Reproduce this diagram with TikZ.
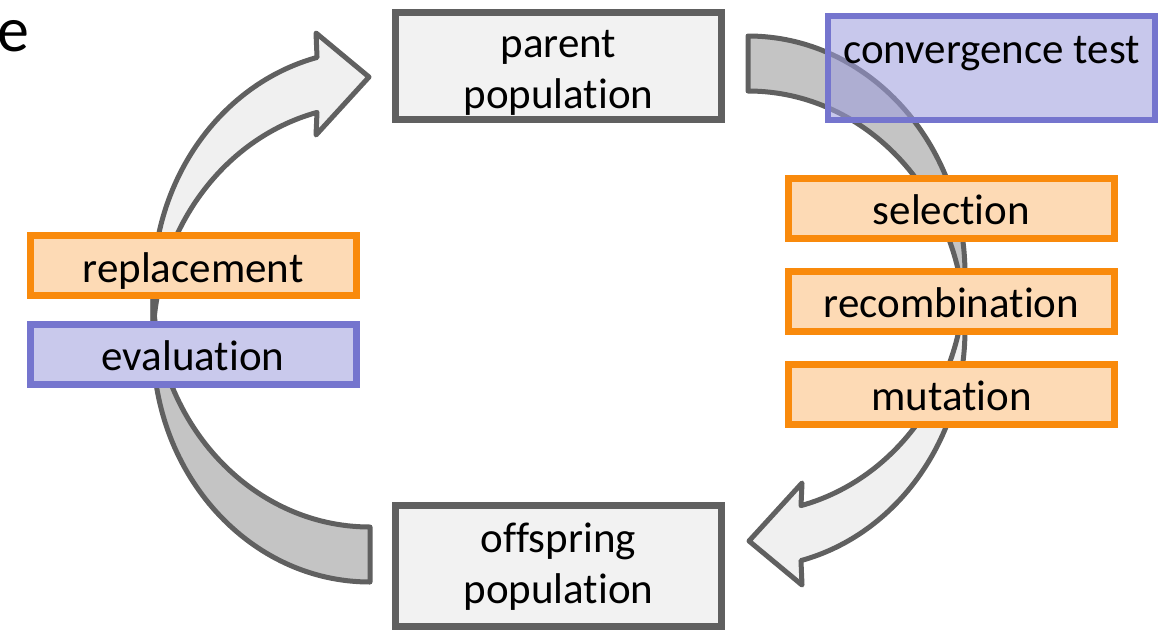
\documentclass[tikz,border=0pt]{standalone}
\usepackage{fontspec}
\setmainfont{Carlito}[Ligatures=NoCommon]
\definecolor{arrgray}{HTML}{606060}
\definecolor{arrdark}{HTML}{C4C4C4}
\definecolor{arrlight}{HTML}{F0F0F0}
\definecolor{boxgray}{HTML}{606060}
\definecolor{boxfill}{HTML}{F2F2F2}
\definecolor{orangeline}{HTML}{F98A0C}
\definecolor{orangefill}{HTML}{FDDAB5}
\definecolor{purpleline}{HTML}{7575CE}
\definecolor{purplefill}{HTML}{C9C9EC}
\definecolor{purpletrans}{HTML}{9D9DDD}
\newcommand\curvedarrowshape{%
  \filldraw[arrowline, fill=arrdark] (370,527)
    arc[start angle=90, end angle=180, x radius=217, y radius=238.4]
    -- (153,343.6)
    arc[start angle=180, end angle=90, x radius=217, y radius=238.4] -- cycle;
  \filldraw[arrowline, fill=arrlight] (153,288.6)
    arc[start angle=180, end angle=255.87, x radius=217, y radius=238.4]
    -- (316,33) -- (369,77) -- (316,135) -- (317,112.4)
    arc[start angle=255.87, end angle=180, x radius=217, y radius=238.4] -- cycle;
}
\begin{document}
\begin{tikzpicture}[x=1pt,y=-1pt,
  arrowline/.style={draw=arrgray, line width=5pt, line join=round},
  popbox/.style={draw=boxgray, fill=boxfill, line width=7pt, inner sep=0pt, minimum width=326pt},
  opbox/.style={draw=orangeline, fill=orangefill, line width=7pt, inner sep=0pt, minimum width=326pt, minimum height=60pt},
  evbox/.style={draw=purpleline, fill=purplefill, line width=7pt, inner sep=0pt, minimum width=326pt, minimum height=60pt},
  lbl/.style={anchor=base, inner sep=0pt, font=\fontsize{43}{51}\selectfont}]
\useasboundingbox (0,0) rectangle (1166,632);
% curved arrows
\begin{scope}
  \curvedarrowshape
\end{scope}
\begin{scope}[rotate around={180:(559,309)}]
  \curvedarrowshape
\end{scope}
% population boxes
\node[popbox, minimum height=107pt] (parent) at (558.5,66) {};
\node[lbl] (parentt) at (558.5,57) {\begin{tabular}[t]{@{}c@{}}parent\\population\end{tabular}};
\node[popbox, minimum height=121pt] (offspring) at (558.5,566) {};
\node[lbl] (offspringt) at (558.5,552) {\begin{tabular}[t]{@{}c@{}}offspring\\population\end{tabular}};
% convergence test (semi-transparent)
\node[draw=purpleline, line width=6pt, fill=purpletrans, fill opacity=0.56, draw opacity=1, inner sep=0pt, minimum width=327pt, minimum height=104pt] (conv) at (991.5,68) {};
\node[lbl] (convt) at (991.5,63) {convergence test};
% operators right
\node[opbox] (sel) at (951.5,208.5) {};
\node[lbl] (selt) at (951.5,224) {selection};
\node[opbox] (rec) at (951.5,301.5) {};
\node[lbl] (rect) at (951.5,317) {recombination};
\node[opbox] (mut) at (951.5,394) {};
\node[lbl] (mutt) at (951.5,410) {mutation};
% operators left
\node[opbox] (rep) at (193,265.5) {};
\node[lbl] (rept) at (193,282) {replacement};
\node[evbox] (eval) at (193,354.5) {};
\node[lbl] (evalt) at (193,370) {evaluation};
% stray letter
\node[anchor=base west, inner sep=0pt, font=\fontsize{64}{70}\selectfont] (e) at (-3,51) {e};
\end{tikzpicture}
\end{document}
